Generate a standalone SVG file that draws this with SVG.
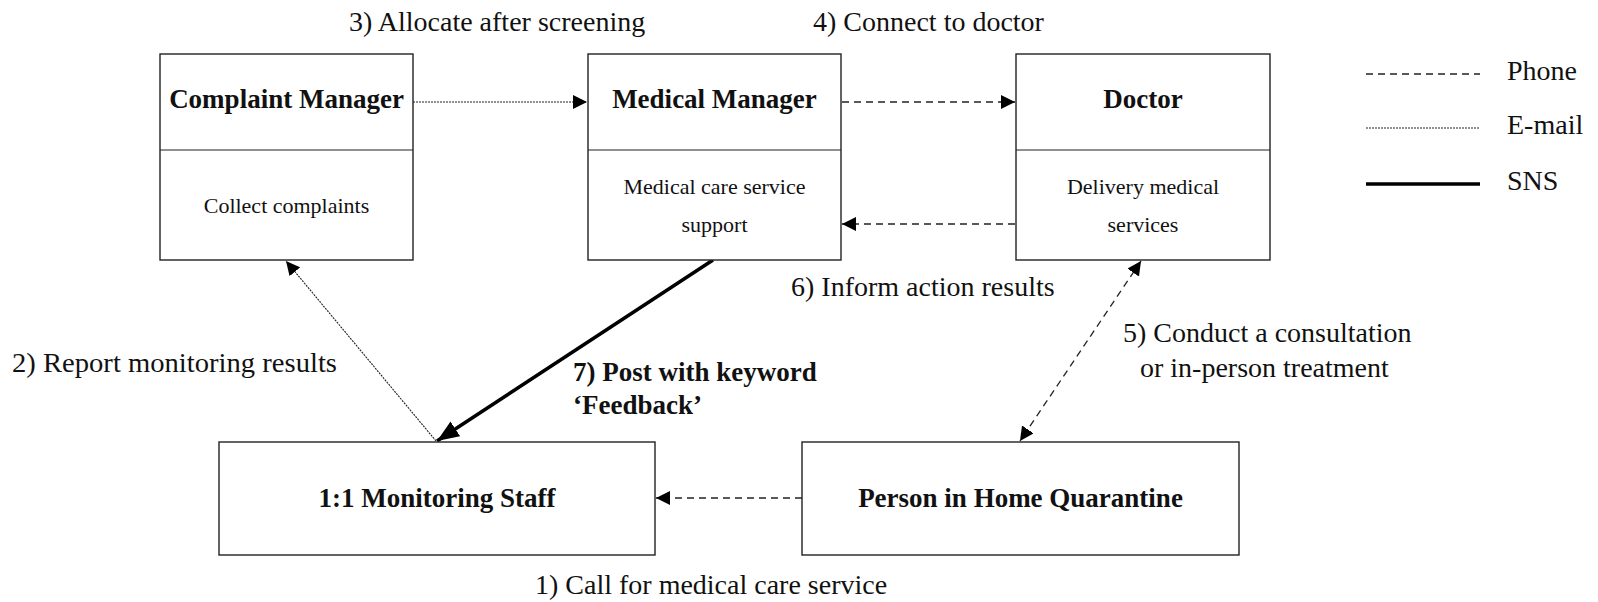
<svg xmlns="http://www.w3.org/2000/svg" width="1598" height="602" viewBox="0 0 1598 602">
  <style>
    .box { fill: #fff; stroke: #222; stroke-width: 1.4; }
    .div { stroke: #222; stroke-width: 1.2; }
    .title { font-family: "Liberation Serif", "Times New Roman", serif; font-weight: bold; font-size: 27px; fill: #111; text-anchor: middle; }
    .sub { font-family: "Liberation Serif", "Times New Roman", serif; font-size: 22px; fill: #111; text-anchor: middle; }
    .lbl { font-family: "Liberation Serif", "Times New Roman", serif; font-size: 28px; fill: #111; }
    .lblb { font-family: "Liberation Serif", "Times New Roman", serif; font-size: 27px; font-weight: bold; fill: #111; }
    .phone { fill: none; stroke: #222; stroke-width: 1.3; stroke-dasharray: 7 5; }
    .email { fill: none; stroke: #222; stroke-width: 1.1; stroke-dasharray: 2 1; }
    .sns { fill: none; stroke: #000; stroke-width: 3.5; }
  </style>
  <defs>
    <marker id="arr" markerUnits="userSpaceOnUse" markerWidth="14" markerHeight="14" viewBox="0 0 12 12" refX="12" refY="6" orient="auto-start-reverse">
      <path d="M0,0 L12,6 L0,12 Z" fill="#000"/>
    </marker>
    <marker id="arrBig" markerUnits="userSpaceOnUse" markerWidth="22" markerHeight="18" viewBox="0 0 20 16" refX="20" refY="8" orient="auto">
      <path d="M0,0 L20,8 L0,16 Z" fill="#000"/>
    </marker>
  </defs>
  <rect width="1598" height="602" fill="#fff"/>

  <!-- connectors -->
  <g id="connectors">
    <line class="email" x1="413" y1="102" x2="587" y2="102" marker-end="url(#arr)"/>
    <line class="phone" x1="842" y1="102" x2="1015" y2="102" marker-end="url(#arr)"/>
    <line class="phone" x1="1015" y1="224" x2="842" y2="224" marker-end="url(#arr)"/>
    <line class="email" x1="436" y1="441" x2="286" y2="261" marker-end="url(#arr)"/>
    <line class="sns" x1="713" y1="260" x2="437" y2="441" marker-end="url(#arrBig)"/>
    <line class="phone" x1="1141" y1="261" x2="1020" y2="441" marker-start="url(#arr)" marker-end="url(#arr)"/>
    <line class="phone" x1="802" y1="498" x2="656" y2="498" marker-end="url(#arr)"/>
  </g>

  <!-- nodes -->
  <g id="complaint-manager">
    <rect class="box" x="160" y="54" width="253" height="206"/>
    <line class="div" x1="160" y1="150" x2="413" y2="150"/>
    <text class="title" x="286.5" y="108">Complaint Manager</text>
    <text class="sub" x="286.5" y="213">Collect complaints</text>
  </g>
  <g id="medical-manager">
    <rect class="box" x="588" y="54" width="253" height="206"/>
    <line class="div" x1="588" y1="150" x2="841" y2="150"/>
    <text class="title" x="714.5" y="108">Medical Manager</text>
    <text class="sub" x="714.5" y="194">Medical care service</text>
    <text class="sub" x="714.5" y="232">support</text>
  </g>
  <g id="doctor">
    <rect class="box" x="1016" y="54" width="254" height="206"/>
    <line class="div" x1="1016" y1="150" x2="1270" y2="150"/>
    <text class="title" x="1143" y="108">Doctor</text>
    <text class="sub" x="1143" y="194">Delivery medical</text>
    <text class="sub" x="1143" y="232">services</text>
  </g>
  <g id="monitoring-staff">
    <rect class="box" x="219" y="442" width="436" height="113"/>
    <text class="title" x="437" y="507">1:1 Monitoring Staff</text>
  </g>
  <g id="home-quarantine">
    <rect class="box" x="802" y="442" width="437" height="113"/>
    <text class="title" x="1020.5" y="507">Person in Home Quarantine</text>
  </g>

  <!-- connector labels -->
  <g id="labels">
    <text class="lbl" x="349" y="31">3) Allocate after screening</text>
    <text class="lbl" x="813" y="31">4) Connect to doctor</text>
    <text class="lbl" x="791" y="296">6) Inform action results</text>
    <text class="lbl" x="12" y="372" textLength="325" lengthAdjust="spacingAndGlyphs">2) Report monitoring results</text>
    <text class="lblb" x="573" y="381">7) Post with keyword</text>
    <text class="lblb" x="573" y="414">‘Feedback’</text>
    <text class="lbl" x="1123" y="342">5) Conduct a consultation</text>
    <text class="lbl" x="1140" y="377">or in-person treatment</text>
    <text class="lbl" x="535" y="594">1) Call for medical care service</text>
  </g>

  <!-- legend -->
  <g id="legend">
    <line class="phone" x1="1366" y1="74" x2="1480" y2="74"/>
    <text class="lbl" x="1507" y="80">Phone</text>
    <line class="email" x1="1366" y1="128" x2="1480" y2="128"/>
    <text class="lbl" x="1507" y="134">E-mail</text>
    <line class="sns" x1="1366" y1="184" x2="1480" y2="184"/>
    <text class="lbl" x="1507" y="190">SNS</text>
  </g>
</svg>
